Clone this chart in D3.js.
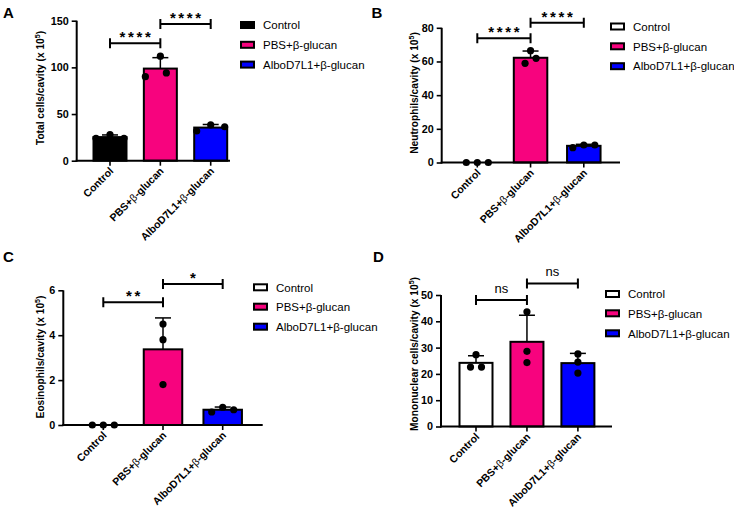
<!DOCTYPE html>
<html>
<head>
<meta charset="utf-8">
<script src="https://cdn.jsdelivr.net/npm/d3@7"></script>
<style>
  html, body { margin: 0; padding: 0; background: #fff; }
  svg { display: block; font-family: "Liberation Sans", Arial, sans-serif; }
</style>
</head>
<body>
<svg id="chart" width="734" height="511"></svg>
<script>
// ---------------- DATA ----------------
const categories = ["Control", "PBS+β-glucan", "AlboD7L1+β-glucan"];
const panelLetters = ["A", "B", "C", "D"];
const yTitles = [
  "Total cells/cavity (x 10",
  "Neutrophils/cavity (x 10",
  "Eosinophils/cavity (x 10",
  "Mononuclear cells/cavity (x 10"
];
const yExponent = "5";

const yTicksA = [0, 50, 100, 150];
const yTicksB = [0, 20, 40, 60, 80];
const yTicksC = [0, 2, 4, 6];
const yTicksD = [0, 10, 20, 30, 40, 50];

// bar heights (mean) and top of error bar (mean + SD)
const meansA = [25.3, 98.7, 35.5];
const errTopA = [27.6, 110.4, 38.8];
const meansB = [0, 62.2, 9.9];
const errTopB = [0, 66.2, 10.8];
const meansC = [0, 3.37, 0.68];
const errTopC = [0, 4.77, 0.80];
const meansD = [24.2, 32.2, 24.1];
const errTopD = [26.9, 42.3, 27.8];

// individual animals: [left, middle, right] as placed in each column
const pointsA = [[24, 28, 24], [90, 112, 94], [31.8, 38.3, 36.4]];
const pointsB = [[0, 0, 0], [58.9, 66.4, 61.9], [8.8, 10.4, 10.4]];
const pointsC = [[0, 0, 0], [4.5, 3.8, 1.8], [0.58, 0.79, 0.68]];
const pointsD = [[22.6, 27.3, 22.6], [43.6, 28.6, 24.3], [27.6, 24.5, 20.3]];

// significance comparisons: [from, to, height in data units, label]
const sigA = [[0, 1, 125.8, "****"], [1, 2, 146.5, "****"]];
const sigB = [[0, 1, 73.8, "****"], [1, 2, 83.0, "****"]];
const sigC = [[0, 1, 5.47, "**"], [1, 2, 6.28, "*"]];
const sigD = [[0, 1, 48.1, "ns"], [1, 2, 54.4, "ns"]];

// ---------------- STYLE / LAYOUT ----------------
const PINK = "#F7037E";
const BLUE = "#0000FF";
const FONT = "'Liberation Sans', Arial, sans-serif";

const panels = [
  { letter: panelLetters[0], letterPos: [3, 17.5], title: yTitles[0], titleX: 44, titleCY: 88,
    ticks: yTicksA, yMax: 150, y0: 160.7, yTop: 20.7, axisX: [76.7, 230],
    centers: [110, 210.7], bw: 33, means: meansA, errTop: errTopA, points: pointsA,
    jitter: [[-14, 0, 14], [-15, 0, 6], [-14, 0, 14]], sig: sigA, controlFill: "#000",
    legend: { x: 241, y: [25, 44.8, 64.6] } },
  { letter: panelLetters[1], letterPos: [371.5, 17.5], title: yTitles[1], titleX: 417.5, titleCY: 93,
    ticks: yTicksB, yMax: 80, y0: 162.5, yTop: 27.8, axisX: [441.7, 620],
    centers: [477.3, 583.8], bw: 33.5, means: meansB, errTop: errTopB, points: pointsB,
    jitter: [[-11, 0, 11], [-5.5, 0, 5.5], [-11, 0, 11]], sig: sigB, controlFill: "#fff",
    legend: { x: 611, y: [26.5, 46.3, 66.2] } },
  { letter: panelLetters[2], letterPos: [3, 262], title: yTitles[2], titleX: 43.5, titleCY: 357,
    ticks: yTicksC, yMax: 6, y0: 425, yTop: 290.3, axisX: [63.3, 262.7],
    centers: [103.3, 222.7], bw: 38.5, means: meansC, errTop: errTopC, points: pointsC,
    jitter: [[-11, 0, 11], [0, 0, 0], [-11, 0, 11]], sig: sigC, controlFill: "#fff",
    legend: { x: 254, y: [287.3, 306.7, 326.7] } },
  { letter: panelLetters[3], letterPos: [373, 262], title: yTitles[3], titleX: 417.5, titleCY: 354,
    ticks: yTicksD, yMax: 50, y0: 426.5, yTop: 295, axisX: [441, 612],
    centers: [476, 577.9], bw: 33, means: meansD, errTop: errTopD, points: pointsD,
    jitter: [[-5.5, 0, 5.5], [0, 0, 0], [0, 0, 0]], sig: sigD, controlFill: "#fff",
    legend: { x: 606, y: [294, 313.3, 333.3] } }
];

const svg = d3.select("#chart");

function addLabelWithBeta(sel, label, betaWeight) {
  const parts = label.split("β");
  parts.forEach((p, i) => {
    if (i > 0) sel.append("tspan").attr("font-weight", betaWeight).text("β");
    if (p.length) sel.append("tspan").text(p);
  });
}

panels.forEach(cfg => {
  const g = svg.append("g");
  const fills = [cfg.controlFill, PINK, BLUE];

  const step = (cfg.centers[1] - cfg.centers[0]) / 2;
  const pad = 1 - cfg.bw / step;
  const x = d3.scaleBand().domain(categories)
    .range([cfg.centers[0] - step / 2, cfg.centers[1] + step / 2])
    .paddingInner(pad).paddingOuter(pad / 2);
  const y = d3.scaleLinear().domain([0, cfg.yMax]).range([cfg.y0, cfg.yTop]);
  const cx = c => x(c) + x.bandwidth() / 2;

  // bars
  g.selectAll("rect.bar").data(categories.filter((c, i) => cfg.means[i] > 0))
    .join("rect").attr("class", "bar")
    .attr("x", c => x(c))
    .attr("width", x.bandwidth())
    .attr("y", c => y(cfg.means[categories.indexOf(c)]))
    .attr("height", c => cfg.y0 - y(cfg.means[categories.indexOf(c)]))
    .attr("fill", c => fills[categories.indexOf(c)])
    .attr("stroke", "#000").attr("stroke-width", 2);

  // error bars (upper only)
  const errData = categories.map((c, i) => ({ c, m: cfg.means[i], t: cfg.errTop[i] })).filter(d => d.t > d.m);
  g.selectAll("line.err").data(errData).join("line").attr("class", "err")
    .attr("x1", d => cx(d.c)).attr("x2", d => cx(d.c))
    .attr("y1", d => y(d.m)).attr("y2", d => y(d.t))
    .attr("stroke", "#000").attr("stroke-width", 1.5);
  g.selectAll("line.cap").data(errData).join("line").attr("class", "cap")
    .attr("x1", d => cx(d.c) - 8).attr("x2", d => cx(d.c) + 8)
    .attr("y1", d => y(d.t)).attr("y2", d => y(d.t))
    .attr("stroke", "#000").attr("stroke-width", 1.5);

  // axes
  const yAxis = d3.axisLeft(y).tickValues(cfg.ticks).tickFormat(d3.format("d"))
    .tickSize(5).tickSizeOuter(0).tickPadding(3);
  const ya = g.append("g").attr("transform", `translate(${cfg.axisX[0]},0)`).call(yAxis);
  ya.select(".domain").attr("stroke-width", 2).attr("d", `M0,${cfg.yTop}V${cfg.y0 + 1}`);
  ya.selectAll(".tick line").attr("stroke-width", 1.6);
  ya.selectAll(".tick text").attr("font-family", FONT).attr("font-size", 10.8)
    .attr("font-weight", "bold").attr("fill", "#000");

  g.append("line").attr("x1", cfg.axisX[0] - 1).attr("x2", cfg.axisX[1])
    .attr("y1", cfg.y0).attr("y2", cfg.y0).attr("stroke", "#000").attr("stroke-width", 2);
  g.selectAll("line.xtick").data(categories).join("line").attr("class", "xtick")
    .attr("x1", c => cx(c)).attr("x2", c => cx(c))
    .attr("y1", cfg.y0).attr("y2", cfg.y0 + 5)
    .attr("stroke", "#000").attr("stroke-width", 1.6);

  g.selectAll("text.xlab").data(categories).join("text").attr("class", "xlab")
    .attr("transform", c => `translate(${cx(c) + 4},${cfg.y0 + 11}) rotate(-45)`)
    .attr("text-anchor", "end").attr("font-family", FONT).attr("font-size", 10.5)
    .attr("font-weight", "bold").attr("fill", "#000")
    .each(function(c) { addLabelWithBeta(d3.select(this), c, "normal"); });

  // points
  const pts = [];
  cfg.points.forEach((arr, i) => arr.forEach((v, j) => pts.push({ c: categories[i], v, dx: cfg.jitter[i][j] })));
  g.selectAll("circle.pt").data(pts).join("circle").attr("class", "pt")
    .attr("cx", d => cx(d.c) + d.dx).attr("cy", d => y(d.v)).attr("r", 3.6).attr("fill", "#000");

  // significance brackets
  cfg.sig.forEach(s => {
    const x1 = cx(categories[s[0]]), x2 = cx(categories[s[1]]), yy = y(s[2]);
    g.append("path").attr("d", `M${x1},${yy - 5}V${yy + 5}M${x1},${yy}H${x2}M${x2},${yy - 5}V${yy + 5}`)
      .attr("fill", "none").attr("stroke", "#000").attr("stroke-width", 2);
    const isNs = s[3] === "ns";
    const t = g.append("text").attr("x", (x1 + x2) / 2).attr("text-anchor", "middle")
      .attr("font-family", FONT).attr("fill", "#000").text(s[3]);
    if (isNs) {
      t.attr("y", yy - 7).attr("font-size", 13);
    } else {
      t.attr("y", yy - 1).attr("font-size", 15).attr("font-weight", "bold")
        .attr("letter-spacing", 2.6).attr("dx", 1.3);
    }
  });

  // y title
  const tt = g.append("text")
    .attr("transform", `translate(${cfg.titleX},${cfg.titleCY}) rotate(-90)`)
    .attr("text-anchor", "middle").attr("font-family", FONT).attr("font-size", 10.2)
    .attr("font-weight", "bold").attr("fill", "#000");
  tt.append("tspan").text(cfg.title);
  tt.append("tspan").attr("font-size", 7).attr("dy", -4).text(yExponent);
  tt.append("tspan").attr("dy", 4).text(")");

  // legend
  const lg = g.append("g");
  categories.forEach((c, i) => {
    lg.append("rect").attr("x", cfg.legend.x).attr("y", cfg.legend.y[i] - 3)
      .attr("width", 13).attr("height", 6).attr("fill", fills[i])
      .attr("stroke", "#000").attr("stroke-width", 2);
    lg.append("text").attr("x", cfg.legend.x + 22).attr("y", cfg.legend.y[i] + 4.2)
      .attr("font-family", FONT).attr("font-size", 11.5).attr("fill", "#000").text(c);
  });

  // panel letter
  g.append("text").attr("x", cfg.letterPos[0]).attr("y", cfg.letterPos[1])
    .attr("font-family", FONT).attr("font-size", 15).attr("font-weight", "bold")
    .attr("fill", "#000").text(cfg.letter);
});
</script>
</body>
</html>
